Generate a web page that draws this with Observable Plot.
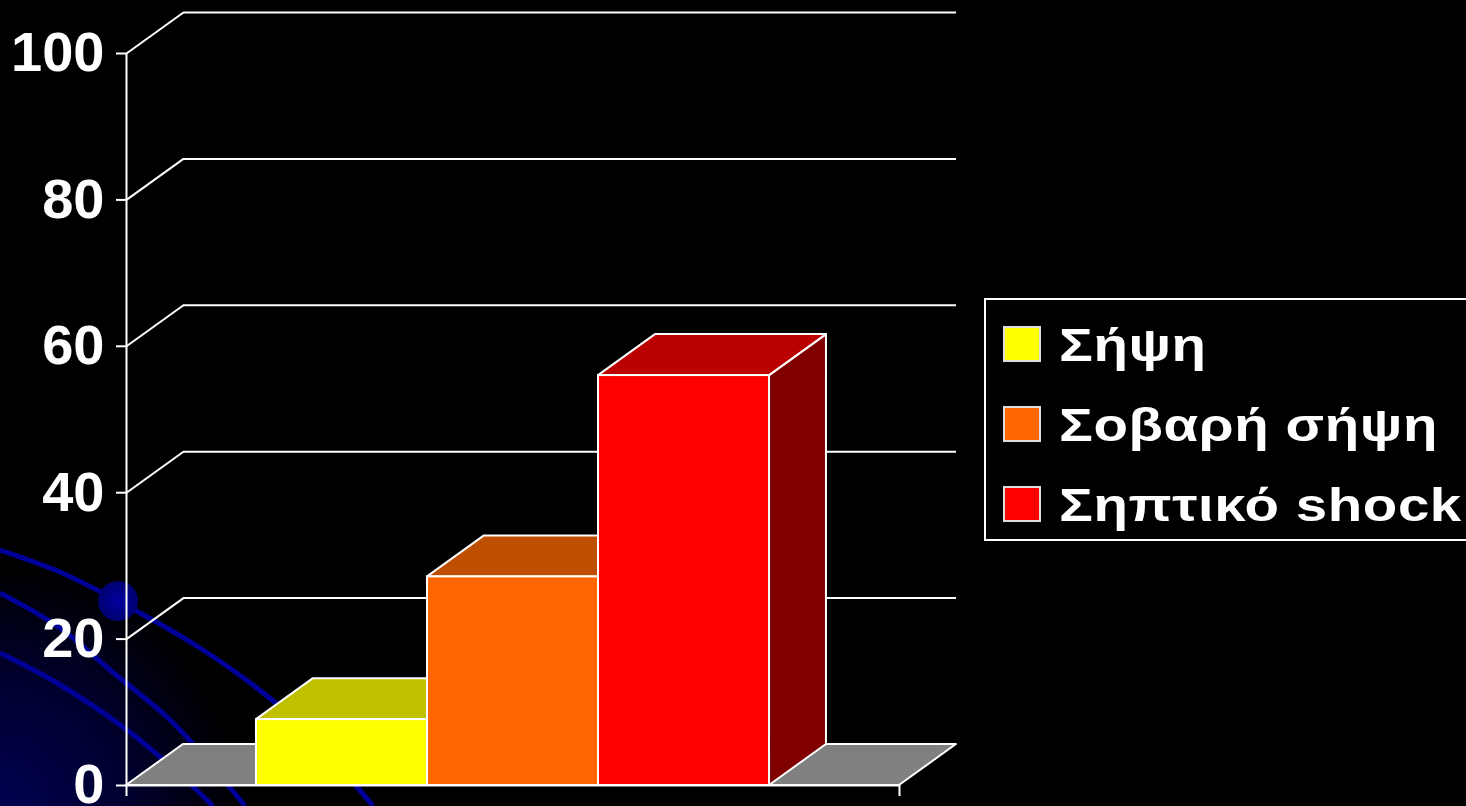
<!DOCTYPE html>
<html>
<head>
<meta charset="utf-8">
<script src="https://cdn.jsdelivr.net/npm/d3@7"></script>
<script src="https://cdn.jsdelivr.net/npm/@observablehq/plot@0.6"></script>
<style>
  html, body { margin: 0; padding: 0; background: #000; overflow: hidden; }
  #wrap { position: relative; width: 1466px; height: 806px;
    background: radial-gradient(circle at 0px 806px, #000050 0px, #00002e 130px, #000010 200px, #000 240px); }
  #bg, #chart { position: absolute; left: 0; top: 0; }
  #legend { position: absolute; left: 984px; top: 298px; width: 520px; height: 239px;
    border: 2px solid #fff; font-family: "Liberation Sans", Arial, sans-serif; font-weight: bold;
    color: #fff; font-size: 47px; letter-spacing: 0.5px; }
  .item { position: absolute; left: 17px; height: 50px; display: flex; align-items: center; white-space: nowrap; }
  .sw { width: 34px; height: 32px; border: 2px solid #ddd; margin-right: 18px; box-sizing: content-box; }
  .lbl { display: inline-block; transform: scaleX(1.2); transform-origin: 0 50%; }
</style>
</head>
<body>
<div id="wrap">
  <svg id="bg" width="1466" height="806"></svg>
  <div id="chart"></div>
  <div id="legend"></div>
</div>
<script>
// ---- data ----
const categories = ["Σήψη", "Σοβαρή σήψη", "Σηπτικό shock"];
const values = [9, 28.5, 56];
const frontColors = ["#FFFF00", "#FF6600", "#FF0000"];
const topColors = ["#C0C000", "#BF4F00", "#BB0000"];
const sideColors = ["#808000", "#803300", "#800000"];
const yTicks = [0, 20, 40, 60, 80, 100];

// ---- layout constants (3D look) ----
const GAP = 0.76;            // gap before first / after last bar, in bar widths
const XMAX = categories.length + 2 * GAP;
const DX = 0.333;            // depth offset in x (bar-width units)
const DY = 5.6;              // depth offset in y (value units)

const bars = categories.map((c, i) => ({
  cat: c, v: values[i], x1: GAP + i, x2: GAP + i + 1,
  front: frontColors[i], top: topColors[i], side: sideColors[i]
}));
const topPts = bars.flatMap(b => [
  {cat: b.cat, y: b.v, x1: b.x1, x2: b.x2, fill: b.top},
  {cat: b.cat, y: b.v + DY, x1: b.x1 + DX, x2: b.x2 + DX, fill: b.top}
]);
const sidePts = bars.flatMap(b => [
  {cat: b.cat, x: b.x2, y1: 0, y2: b.v, fill: b.side},
  {cat: b.cat, x: b.x2 + DX, y1: DY, y2: b.v + DY, fill: b.side}
]);
const floorPts = [
  {y: 0, x1: 0, x2: XMAX},
  {y: DY, x1: DX, x2: XMAX + DX}
];

const W = "#ffffff";
const chart = Plot.plot({
  width: 1466, height: 806,
  marginLeft: 126, marginTop: 53, marginBottom: 21, marginRight: 567,
  style: {background: "transparent", color: "white", fontFamily: "'Liberation Sans', Arial, sans-serif"},
  x: {type: "linear", domain: [0, XMAX], axis: null},
  y: {domain: [0, 100], axis: null},
  color: {type: "identity"},
  marks: [
    // back wall gridlines
    Plot.ruleY(yTicks.filter(t => t > 0), {y: t => t + DY, x1: DX, x2: XMAX + DX, stroke: W, strokeWidth: 2}),
    // side wall diagonals
    Plot.link(yTicks, {x1: 0, y1: t => t, x2: DX, y2: t => t + DY, stroke: W, strokeWidth: 2}),
    // floor
    Plot.areaX(floorPts, {y: "y", x1: "x1", x2: "x2", fill: "#808080", stroke: W, strokeWidth: 2}),
    // bar sides
    Plot.areaY(sidePts, {x: "x", y1: "y1", y2: "y2", z: "cat", fill: "fill", stroke: W, strokeWidth: 2}),
    // bar tops
    Plot.areaX(topPts, {y: "y", x1: "x1", x2: "x2", z: "cat", fill: "fill", stroke: W, strokeWidth: 2}),
    // bar fronts
    Plot.rectY(bars, {x1: "x1", x2: "x2", y1: 0, y2: "v", fill: "front", stroke: W, strokeWidth: 2}),
    // axes lines
    Plot.ruleX([0], {y1: 0, y2: 100, stroke: W, strokeWidth: 2}),
    Plot.ruleY([0], {x1: 0, x2: XMAX, stroke: W, strokeWidth: 2}),
    Plot.axisX({ticks: [0, XMAX], tickSize: 11, tickFormat: () => "", stroke: W, strokeWidth: 2}),
    Plot.axisY({ticks: yTicks, tickSize: 10, tickPadding: 12, fontSize: 56, fontWeight: "bold",
      fill: W, stroke: W, strokeWidth: 2, tickFormat: d => String(d)})
  ]
});
document.getElementById("chart").appendChild(chart);

// ---- legend ----
const leg = document.getElementById("legend");
categories.forEach((c, i) => {
  const it = document.createElement("div");
  it.className = "item";
  it.style.top = (19 + i * 80) + "px";
  const sw = document.createElement("div");
  sw.className = "sw";
  sw.style.background = frontColors[i];
  const tx = document.createElement("span");
  tx.className = "lbl";
  tx.textContent = c;
  it.appendChild(sw); it.appendChild(tx);
  leg.appendChild(it);
});

// ---- decorative background (slide template) ----
const bg = d3.select("#bg");
const defs = bg.append("defs");
const rg = defs.append("radialGradient").attr("id", "dot");
rg.append("stop").attr("offset", "0%").attr("stop-color", "#0000a0");
rg.append("stop").attr("offset", "100%").attr("stop-color", "#000070");
const curves = [
  [[0,550],[60,572],[118,601],[200,648],[272,700],[320,745],[357,787],[373,806]],
  [[0,593],[60,628],[110,670],[167,717],[200,752],[245,806]],
  [[0,653],[57,683],[123,727],[175,770],[213,806]]
];
const ln = d3.line().curve(d3.curveCatmullRom);
curves.forEach(c => bg.append("path").attr("d", ln(c)).attr("fill", "none")
  .attr("stroke", "#000099").attr("stroke-width", 5));
bg.append("circle").attr("cx", 118).attr("cy", 601).attr("r", 20).attr("fill", "url(#dot)");
</script>
</body>
</html>
